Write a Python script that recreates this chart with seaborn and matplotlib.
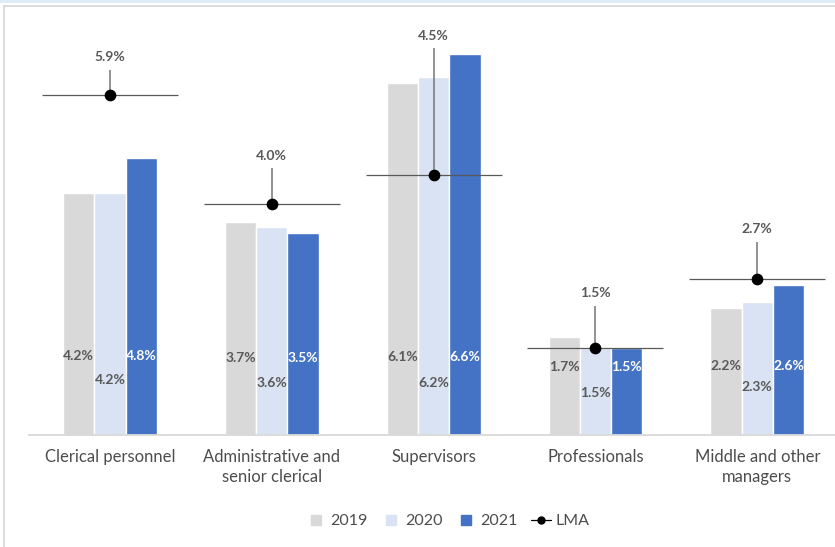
import numpy as np
import pandas as pd
import matplotlib
matplotlib.use("Agg")
import matplotlib.pyplot as plt
from matplotlib.lines import Line2D
import seaborn as sns

# Occupational groups and annual rates (%)
categories = ["Clerical personnel", "Administrative and\nsenior clerical",
              "Supervisors", "Professionals", "Middle and other\nmanagers"]
years = ["2019", "2020", "2021"]
rate_2019 = [4.2, 3.7, 6.1, 1.7, 2.2]
rate_2020 = [4.2, 3.6, 6.2, 1.5, 2.3]
rate_2021 = [4.8, 3.5, 6.6, 1.5, 2.6]
lma = [5.9, 4.0, 4.5, 1.5, 2.7]

# Layout constants for the annotations (data units on the y axis)
lma_label_y = [6.55, 4.84, 6.92, 2.46, 3.57]
bar_label_upper = [1.37, 1.33, 1.35, 1.18, 1.20]
bar_label_lower = [0.95, 0.90, 0.90, 0.73, 0.83]

colors = ["#D9D9D9", "#DAE3F3", "#4472C4"]
text_grey = "#595959"

sns.set_theme(style="white")
plt.rcParams["font.family"] = ["Lato", "DejaVu Sans"]

df = pd.DataFrame({
    "category": np.repeat(categories, len(years)),
    "year": years * len(categories),
    "value": np.column_stack([rate_2019, rate_2020, rate_2021]).ravel(),
})

fig = plt.figure(figsize=(8.35, 5.47), dpi=100)
ax = fig.add_axes([29 / 835, 1 - 435 / 547, 1 - 29 / 835, (435 - 20) / 547])

sns.barplot(data=df, x="category", y="value", hue="year", order=categories,
            hue_order=years, palette=colors, saturation=1, width=0.58,
            errorbar=None, legend=False, ax=ax)

ax.set_xlim(-0.5, 4.48)
ax.set_ylim(0, (435 - 20) / 57.7)
ax.set_xlabel("")
ax.set_ylabel("")
ax.set_yticks([])
for s in ["top", "right", "left"]:
    ax.spines[s].set_visible(False)
ax.spines["bottom"].set_color("#D9D9D9")
ax.spines["bottom"].set_linewidth(1.3)
ax.tick_params(axis="x", length=0, pad=10, labelsize=12, labelcolor="#4D4D4D")
for t in ax.get_xticklabels():
    t.set_linespacing(1.35)

# Value labels inside the bars
for j, container in enumerate(ax.containers):
    for i, bar in enumerate(container):
        cx = bar.get_x() + bar.get_width() / 2
        y = bar_label_lower[i] if j == 1 else bar_label_upper[i]
        col = "white" if j == 2 else text_grey
        ax.text(cx, y, f"{bar.get_height():.1f}%", ha="center", va="center",
                fontsize=10, fontweight="bold", color=col)

# LMA benchmark: horizontal reference, marker, leader line and label
xs = np.arange(len(categories))
ax.hlines(lma, xs - 0.42, xs + 0.42, color="#595959", lw=0.9, zorder=3)
ax.vlines(xs, lma, np.array(lma_label_y) - 0.22, color="#7F7F7F", lw=1.2, zorder=3)
ax.scatter(xs, lma, s=55, color="black", zorder=4)
for x, v, ly in zip(xs, lma, lma_label_y):
    ax.text(x, ly, f"{v:.1f}%", ha="center", va="center", fontsize=10,
            fontweight="bold", color=text_grey)

# Legend
handles = [Line2D([], [], marker="s", ls="none", ms=7, color=c) for c in colors]
handles.append(Line2D([], [], marker="o", ms=5, color="black", lw=0.9))
fig.legend(handles, years + ["LMA"], loc="center", bbox_to_anchor=(0.536, 1 - 521 / 547),
           ncol=4, frameon=False, fontsize=11.5, labelcolor="#4D4D4D",
           handlelength=1.3, handletextpad=0.25, columnspacing=0.8)

# Outer frame
fig.add_artist(Line2D([0, 1], [1 - 1 / 547] * 2, color="#DDEBF7", lw=2))
fig.add_artist(Line2D([3.5 / 835, 1], [1 - 5.5 / 547] * 2, color="#D9D9D9", lw=1.3))
fig.add_artist(Line2D([3.5 / 835] * 2, [0, 1 - 5.5 / 547], color="#D9D9D9", lw=1.3))

fig.savefig("out.png", dpi=100)
